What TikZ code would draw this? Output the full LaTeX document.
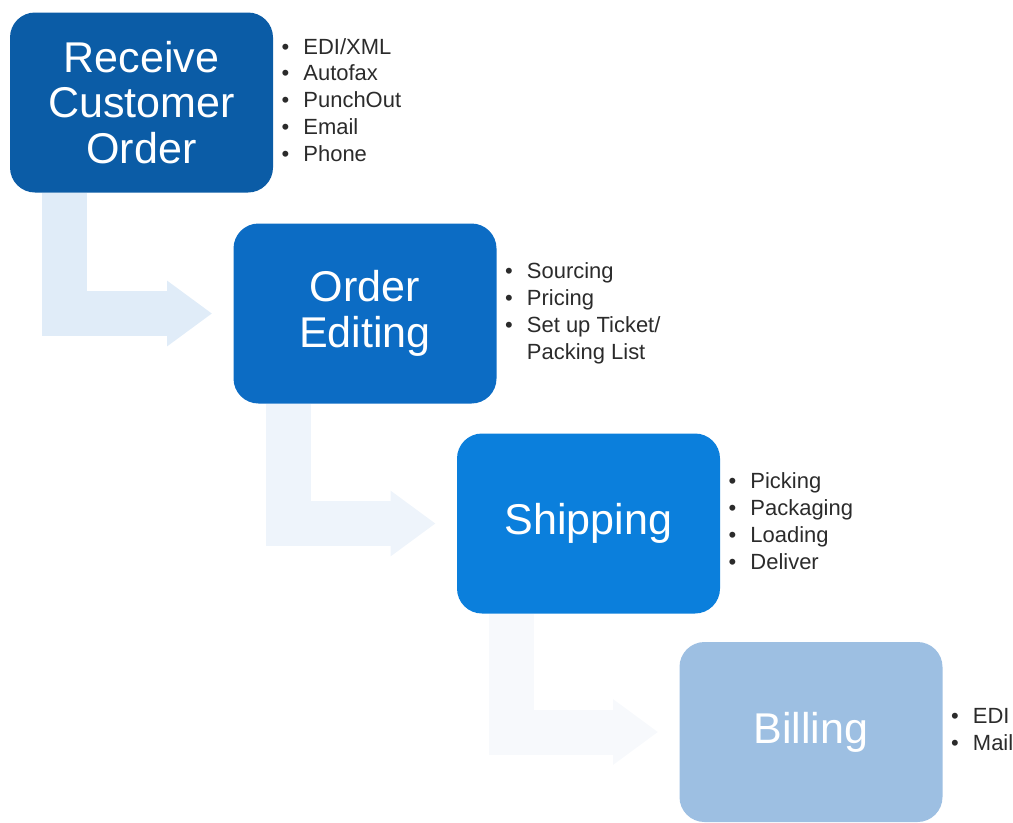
\documentclass[tikz,border=0pt]{standalone}
\usepackage{fontspec}
\setmainfont{Liberation Sans}
\usepackage{tikz}
\usetikzlibrary{positioning,arrows.meta}

\definecolor{stepone}{HTML}{0B5CA6}
\definecolor{steptwo}{HTML}{0C6CC4}
\definecolor{stepthree}{HTML}{0B7FDC}
\definecolor{stepfour}{HTML}{9DBFE2}
\definecolor{arrowone}{HTML}{E0ECF8}
\definecolor{arrowtwo}{HTML}{EEF4FB}
\definecolor{arrowthree}{HTML}{F7F9FC}
\definecolor{listgray}{HTML}{2B2B2B}

\newcommand{\bulletlist}[1]{\begin{tabular}{@{}l@{\hspace{8pt}}l@{}}#1\end{tabular}}

\begin{document}
\begin{tikzpicture}[
    stepbox/.style={rectangle, rounded corners=0.5cm, minimum width=5.26cm, minimum height=3.6cm,
        text=white, align=center, inner sep=0, font=\fontsize{24.5}{26}\selectfont},
    itemlist/.style={right=0.16cm of #1, inner sep=0, text=listgray, font=\fontsize{12.5}{15.3}\selectfont},
    flowarrow/.style={line width=0.9cm, -{Triangle[width=1.25cm, length=0.9cm]}, shorten >=0.42cm}
]
    \useasboundingbox (0,0) rectangle (20.26,-16.44);

    % the four steps
    \node[stepbox, fill=stepone] (receive) at (2.83,-2.05) {Receive\\Customer\\Order};
    \node[stepbox, fill=steptwo] (editing) at (7.30,-6.27) {Order\\Editing};
    \node[stepbox, fill=stepthree] (shipping) at (11.77,-10.47) {Shipping};
    \node[stepbox, fill=stepfour] (billing) at (16.22,-14.64) {Billing};

    % what goes with each step
    \node[itemlist=receive] (receivelist) {\bulletlist{
        \textbullet & EDI/XML\\
        \textbullet & Autofax\\
        \textbullet & PunchOut\\
        \textbullet & Email\\
        \textbullet & Phone}};
    \node[itemlist=editing] (editinglist) {\bulletlist{
        \textbullet & Sourcing\\
        \textbullet & Pricing\\
        \textbullet & Set up Ticket/\\
                    & Packing List}};
    \node[itemlist=shipping] (shippinglist) {\bulletlist{
        \textbullet & Picking\\
        \textbullet & Packaging\\
        \textbullet & Loading\\
        \textbullet & Deliver}};
    \node[itemlist=billing] (billinglist) {\bulletlist{
        \textbullet & EDI\\
        \textbullet & Mail}};

    % bent arrows between the steps
    \draw[flowarrow, draw=arrowone] ([xshift=1.1cm]receive.south west) |- (editing.west);
    \draw[flowarrow, draw=arrowtwo] ([xshift=1.1cm]editing.south west) |- (shipping.west);
    \draw[flowarrow, draw=arrowthree] ([xshift=1.1cm]shipping.south west) |- (billing.west);
\end{tikzpicture}
\end{document}
